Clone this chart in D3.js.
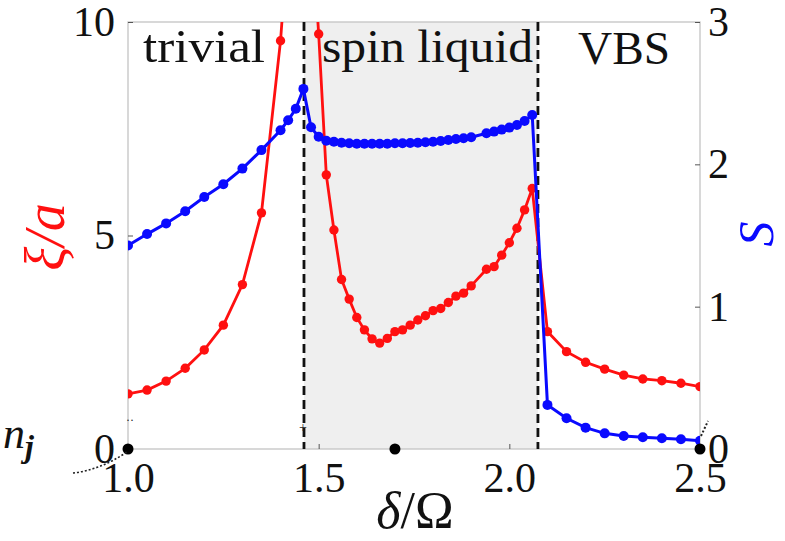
<!DOCTYPE html>
<html>
<head>
<meta charset="utf-8">
<script src="https://cdn.jsdelivr.net/npm/d3@7"></script>
<style>
  body { margin: 0; background: #fff; }
  svg text { font-family: "Liberation Serif", "Times New Roman", Times, Tinos, "Noto Serif", "DejaVu Serif", serif !important; }
</style>
</head>
<body>
<svg id="chart" width="785" height="541"></svg>
<script>
// correlation length xi/a (left axis), red
var xiDelta = [1.00,1.05,1.10,1.15,1.20,1.25,1.30,1.35,1.40,1.42,
               1.48,1.50,1.52,1.54,1.56,1.58,1.60,1.62,1.64,1.66,1.68,1.70,1.72,1.74,1.76,1.78,1.80,1.82,1.84,1.86,1.88,1.90,1.94,1.96,1.98,2.00,2.02,2.04,2.06,
               2.10,2.15,2.20,2.25,2.30,2.35,2.40,2.45,2.50]
var xiVals = [1.29,1.38,1.59,1.89,2.32,2.90,3.85,5.53,9.56,12.0,
              12.5,9.72,6.42,5.13,3.97,3.51,3.08,2.79,2.58,2.48,2.59,2.75,2.79,2.90,3.02,3.12,3.24,3.29,3.43,3.58,3.65,3.82,4.21,4.27,4.54,4.83,5.17,5.60,6.10,
              2.75,2.28,2.03,1.87,1.73,1.64,1.60,1.54,1.46]
// points above the top of the frame (no marker drawn)
var xiOffScale = [1.42, 1.48]

// entropy S (right axis), blue
var sDelta = [1.00,1.05,1.10,1.15,1.20,1.25,1.30,1.35,1.40,1.42,1.44,1.46,
              1.48,1.50,1.52,1.54,1.56,1.58,1.60,1.62,1.64,1.66,1.68,1.70,1.72,1.74,1.76,1.78,1.80,1.82,1.84,1.86,1.88,1.90,1.94,1.96,1.98,2.00,2.02,2.04,2.06,
              2.10,2.15,2.20,2.25,2.30,2.35,2.40,2.45,2.50]
var sVals = [1.43,1.51,1.585,1.67,1.77,1.86,1.97,2.10,2.24,2.31,2.39,2.53,
             2.26,2.194,2.166,2.159,2.152,2.148,2.145,2.145,2.145,2.145,2.145,2.148,2.148,2.150,2.152,2.155,2.159,2.164,2.171,2.178,2.183,2.190,2.218,2.230,2.244,2.258,2.276,2.304,2.347,
             0.31,0.216,0.15,0.11,0.091,0.082,0.075,0.068,0.058]

var phaseBounds = [1.4615, 2.075]
var phaseNames = ["trivial", "spin liquid", "VBS"]
var xTicks = [1.0, 1.5, 2.0, 2.5]
var leftTicks = [0, 5, 10]
var rightTicks = [0, 1, 2, 3]
var njDots = [1.0, 1.70, 2.5]

var svg = d3.select("#chart")
var L = 128, R = 700, T = 22, B = 449

var x = d3.scaleLinear().domain([1, 2.5]).range([L, R])
var yL = d3.scaleLinear().domain([0, 10]).range([B, T])
var yR = d3.scaleLinear().domain([0, 3]).range([B, T])

svg.append("defs").append("clipPath").attr("id", "clip")
  .append("rect").attr("x", L).attr("y", T).attr("width", R - L).attr("height", B - T)

// spin liquid shading
svg.append("rect")
  .attr("x", x(phaseBounds[0])).attr("y", T)
  .attr("width", x(phaseBounds[1]) - x(phaseBounds[0])).attr("height", B - T)
  .attr("fill", "#efefef")

// frame
svg.append("rect").attr("x", L).attr("y", T).attr("width", R - L).attr("height", B - T)
  .attr("fill", "none").attr("stroke", "#c4c4c4").attr("stroke-width", 1.3)

var tickFont = 42
var gx = svg.append("g").attr("transform", "translate(0," + B + ")")
  .call(d3.axisBottom(x).tickValues(xTicks).tickFormat(d3.format(".1f")).tickSizeInner(-5).tickSizeOuter(0).tickPadding(13))
var gl = svg.append("g").attr("transform", "translate(" + L + ",0)")
  .call(d3.axisLeft(yL).tickValues(leftTicks).tickFormat(d3.format("d")).tickSizeInner(-5).tickSizeOuter(0).tickPadding(13))
var gr = svg.append("g").attr("transform", "translate(" + R + ",0)")
  .call(d3.axisRight(yR).tickValues(rightTicks).tickFormat(d3.format("d")).tickSizeInner(-5).tickSizeOuter(0).tickPadding(8))
;[gx, gl, gr].forEach(function(g) {
  g.attr("font-family", null)
  g.select(".domain").remove()
  g.selectAll(".tick line").attr("stroke", "#555").attr("stroke-width", 1)
  g.selectAll(".tick text").attr("font-size", tickFont).attr("fill", "#111")
})

// dashed phase boundaries
svg.selectAll(".bound").data(phaseBounds).enter().append("line")
  .attr("x1", function(d) { return x(d) }).attr("x2", function(d) { return x(d) })
  .attr("y1", T).attr("y2", B)
  .attr("stroke", "#111").attr("stroke-width", 2.8).attr("stroke-dasharray", "9,5")

// phase labels
var labelPos = [[143, 62, 122], [322, 62, 211], [578, 64, 92]]
svg.selectAll(".phase").data(phaseNames).enter().append("text")
  .attr("x", function(d, i) { return labelPos[i][0] })
  .attr("y", function(d, i) { return labelPos[i][1] })
  .attr("textLength", function(d, i) { return labelPos[i][2] })
  .attr("lengthAdjust", "spacingAndGlyphs")
  .attr("font-size", 46).attr("fill", "#111")
  .text(function(d) { return d })

var plot = svg.append("g").attr("clip-path", "url(#clip)")

var xiData = xiDelta.map(function(d, i) { return [d, xiVals[i]] })
var sData = sDelta.map(function(d, i) { return [d, sVals[i]] })

plot.append("path").datum(xiData)
  .attr("d", d3.line().x(function(d) { return x(d[0]) }).y(function(d) { return yL(d[1]) }))
  .attr("fill", "none").attr("stroke", "#ff1010").attr("stroke-width", 2.8)
plot.selectAll(".xi").data(xiData.filter(function(d) { return xiOffScale.indexOf(d[0]) < 0 }))
  .enter().append("circle")
  .attr("cx", function(d) { return x(d[0]) }).attr("cy", function(d) { return yL(d[1]) })
  .attr("r", 4.7).attr("fill", "#ff1010")

plot.append("path").datum(sData)
  .attr("d", d3.line().x(function(d) { return x(d[0]) }).y(function(d) { return yR(d[1]) }))
  .attr("fill", "none").attr("stroke", "#0a0aff").attr("stroke-width", 3)
plot.selectAll(".s").data(sData).enter().append("circle")
  .attr("cx", function(d) { return x(d[0]) }).attr("cy", function(d) { return yR(d[1]) })
  .attr("r", 5).attr("fill", "#0a0aff")

// n_j remnants on the x axis
svg.selectAll(".nj").data(njDots).enter().append("circle")
  .attr("cx", function(d) { return x(d) }).attr("cy", B).attr("r", 5.5).attr("fill", "#000")
svg.append("path").attr("d", "M73,473 Q100,470 127,452")
  .attr("fill", "none").attr("stroke", "#222").attr("stroke-width", 1.6).attr("stroke-dasharray", "2,2")
svg.append("path").attr("d", "M701,436 L708,421")
  .attr("fill", "none").attr("stroke", "#222").attr("stroke-width", 2).attr("stroke-dasharray", "2,2")
svg.append("text").attr("x", 126).attr("y", 424).attr("font-size", 12).attr("fill", "#222").text("··")
svg.append("text").attr("x", 299).attr("y", 432).attr("font-size", 14).attr("fill", "#222").text("+")

var nj = svg.append("text").attr("x", 3).attr("y", 448).attr("font-size", 44).attr("font-style", "italic").attr("fill", "#111")
nj.append("tspan").text("n")
nj.append("tspan").attr("dy", 9).attr("font-size", 32).attr("font-weight", "bold").text("j")

// axis titles
svg.append("text").attr("transform", "translate(64,237) rotate(-90)")
  .attr("text-anchor", "middle").attr("font-size", 56).attr("fill", "#ff1010")
  .attr("font-style", "italic").text("ξ/a")
svg.append("text").attr("transform", "translate(773,234) rotate(-90)")
  .attr("text-anchor", "middle").attr("font-size", 50).attr("fill", "#0a0aff")
  .attr("font-style", "italic").text("S")
var dt = svg.append("text").attr("x", 415).attr("y", 528).attr("text-anchor", "middle")
  .attr("font-size", 52).attr("fill", "#111")
dt.append("tspan").attr("font-style", "italic").text("δ")
dt.append("tspan").text("/Ω")
</script>
</body>
</html>
